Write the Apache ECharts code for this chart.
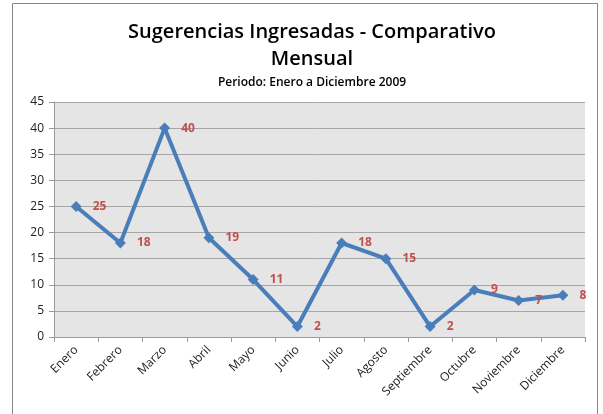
<!DOCTYPE html>
<html lang="es">
	<head>
		<meta charset="utf-8">
	</head>
	<body style="margin: 0">
		<div id="container" style="width: 603px; height: 414px"></div>
		<script type="text/javascript" src="https://cdn.jsdelivr.net/npm/echarts@6/dist/echarts.min.js"></script>
		<script type="text/javascript">
			// datos
			var meses = ['Enero', 'Febrero', 'Marzo', 'Abril', 'Mayo', 'Junio', 'Julio', 'Agosto', 'Septiembre', 'Octubre', 'Noviembre', 'Diciembre'];
			var sugerencias = [25, 18, 40, 19, 11, 2, 18, 15, 2, 9, 7, 8];
			var yMin = 0, yMax = 45, yPaso = 5;

			var myChart = echarts.init(document.getElementById('container'));
			var font = '"Open Sans", "Noto Sans", sans-serif';

			var option = {
				animation: false,
				title: {
					text: 'Sugerencias Ingresadas - Comparativo\nMensual',
					subtext: 'Periodo: Enero a Diciembre 2009',
					left: 307,
					textAlign: 'center',
					top: 14,
					itemGap: 4,
					textStyle: {
						fontFamily: font,
						fontSize: 20,
						fontWeight: 600,
						color: '#000',
						lineHeight: 27
					},
					subtextStyle: {
						fontFamily: font,
						fontSize: 12,
						fontWeight: 600,
						color: '#000'
					}
				},
				graphic: [{
					type: 'rect',
					shape: { x: 12.5, y: 3.5, width: 585, height: 420 },
					style: { fill: null, stroke: '#868686', lineWidth: 1 },
					silent: true
				}],
				grid: {
					left: 54,
					right: 18,
					top: 102,
					bottom: 77,
					show: true,
					backgroundColor: '#e5e5e5',
					borderWidth: 0
				},
				xAxis: {
					type: 'category',
					data: meses,
					boundaryGap: true,
					axisLine: { lineStyle: { color: '#999', width: 1 } },
					axisTick: { show: true, length: 5, lineStyle: { color: '#999' } },
					axisLabel: {
						rotate: 45,
						fontFamily: font,
						fontSize: 12,
						color: '#222',
						margin: 11,
						interval: 0
					}
				},
				yAxis: {
					type: 'value',
					min: yMin,
					max: yMax,
					interval: yPaso,
					axisLine: { show: true, lineStyle: { color: '#999', width: 1 } },
					axisTick: { show: true, length: 5, lineStyle: { color: '#999' } },
					splitLine: { lineStyle: { color: '#a6a6a6', width: 1 } },
					axisLabel: {
						fontFamily: font,
						fontSize: 12,
						color: '#222',
						margin: 10
					}
				},
				series: [{
					type: 'line',
					data: sugerencias,
					symbol: 'diamond',
					symbolSize: 11,
					lineStyle: { color: '#4a7ebb', width: 4 },
					itemStyle: { color: '#4a7ebb' },
					label: {
						show: true,
						position: 'right',
						distance: 11,
						fontFamily: font,
						fontSize: 12,
						fontWeight: 'bold',
						color: '#c0504d'
					}
				}]
			};
			myChart.setOption(option);
		</script>
	</body>
</html>
